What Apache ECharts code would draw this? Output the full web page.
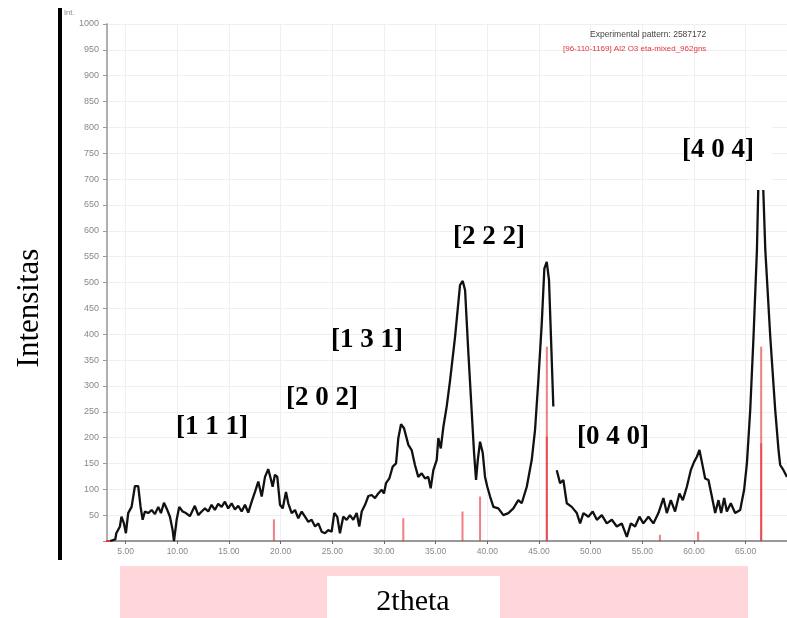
<!DOCTYPE html>
<html>
<head>
<meta charset="utf-8">
<script src="https://cdn.jsdelivr.net/npm/echarts@6/dist/echarts.min.js"></script>
<style>html,body{margin:0;padding:0;background:#fff;}#c{width:787px;height:618px;}</style>
</head>
<body>
<div id="c"></div>
<script>
// ---- data ----
const twoTheta = [3.5,4.0,4.1,4.45,4.6,4.84,5.03,5.25,5.58,5.9,6.22,6.45,6.65,6.87,7.19,7.52,7.84,8.16,8.42,8.71,8.97,9.29,9.55,9.68,9.94,10.19,10.52,10.84,11.22,11.7,12.03,12.36,12.68,13.0,13.32,13.64,13.96,14.29,14.61,14.93,15.26,15.58,15.9,16.23,16.55,16.87,17.2,17.52,17.84,18.17,18.49,18.8,19.04,19.23,19.45,19.68,19.94,20.2,20.52,20.74,21.07,21.39,21.71,22.04,22.36,22.68,23.0,23.33,23.65,23.97,24.29,24.61,24.94,25.19,25.48,25.74,26.06,26.39,26.71,27.03,27.36,27.61,27.85,28.17,28.49,28.81,29.13,29.45,29.78,30.0,30.2,30.52,30.85,31.17,31.39,31.65,31.94,32.36,32.68,33.0,33.32,33.65,33.97,34.29,34.52,34.78,35.11,35.26,35.5,35.75,36.07,36.4,36.88,37.36,37.62,37.85,38.17,38.5,38.72,38.91,39.08,39.3,39.56,39.78,40.0,40.27,40.59,41.07,41.55,42.04,42.52,43.0,43.33,43.82,44.3,44.62,44.94,45.27,45.52,45.75,45.97,46.17,46.39,46.55,46.72,47.04,47.36,47.69,48.17,48.66,48.98,49.3,49.78,50.2,50.6,51.08,51.56,52.05,52.53,53.01,53.5,53.89,54.3,54.72,55.1,55.59,56.07,56.56,57.04,57.37,57.76,58.17,58.59,58.92,59.31,59.69,60.01,60.28,60.53,60.76,61.08,61.4,61.73,62.05,62.37,62.63,62.92,63.18,63.56,63.98,64.47,64.85,65.12,65.44,65.76,66.09,66.24,66.45,66.67,66.9,67.38,67.86,68.18,68.34,68.66,69.0];
const intensity = [0,3,15,28,47,34,15,54,66,106,106,66,41,57,54,60,52,66,54,74,63,47,21,0,41,66,57,54,48,68,50,57,63,57,70,60,72,66,76,63,73,61,68,57,70,55,76,95,115,86,124,139,121,105,128,124,70,63,95,73,54,60,44,57,47,37,41,28,34,18,15,21,18,54,47,15,47,41,50,41,54,28,57,70,87,89,83,92,99,92,112,121,144,150,199,226,218,186,176,147,124,131,121,124,102,137,157,199,179,221,260,311,395,495,503,485,363,247,170,118,157,192,170,124,105,86,66,63,50,54,63,79,73,105,157,215,311,421,527,540,505,389,260,null,137,112,118,73,66,54,34,54,47,57,41,50,34,41,28,34,8,34,28,47,34,47,34,54,83,54,79,57,92,79,105,137,153,163,176,153,121,118,86,54,79,54,83,57,73,54,60,99,150,253,395,563,700,730,700,563,395,253,176,147,137,124];

// reference pattern sticks
const refTheta = [19.35,31.87,37.6,39.3,45.76,45.76,56.7,60.4,66.5,66.5];
const refIntensity = [42,44,57,86,376,202,12,18,376,189];

const xTicks = [5,10,15,20,25,30,35,40,45,50,55,60,65];
const peakLabels = ['[1 1 1]','[2 0 2]','[1 3 1]','[2 2 2]','[0 4 0]','[4 0 4]'];
const legendTexts = ['Experimental pattern: 2587172','[96-110-1169] Al2 O3 eta-mixed_962gns'];
const yTitle = 'Intensitas';
const xTitle = '2theta';
const yUnit = 'Int.';

const curve = twoTheta.map((x, i) => [x, intensity[i]]);
const sticks = refTheta.map((x, i) => [x, refIntensity[i]]);

const labelPos = [[212,427],[322,398],[367,340],[489,237],[613,437],[718,150]];

const chart = echarts.init(document.getElementById('c'), null, {renderer: 'canvas'});
const serif = '"Liberation Serif", "Times New Roman", serif';

const graphic = [
  {type:'rect', shape:{x:58,y:8,width:4,height:552}, style:{fill:'#000'}, z:10},
  {type:'text', x:64, y:9, style:{text:yUnit, fill:'#888', fontSize:7.5, fontFamily:'Liberation Sans'}, z:10},
  {type:'text', x:30, y:308, rotation:Math.PI/2, style:{text:yTitle, fill:'#000', fontSize:31, fontFamily:serif, align:'center', verticalAlign:'middle'}, z:10},
  {type:'rect', shape:{x:120,y:566,width:628,height:52}, style:{fill:'#ffd6da'}, z:10},
  {type:'rect', shape:{x:327,y:576,width:173,height:42}, style:{fill:'#fff'}, z:11},
  {type:'text', x:413, y:602, style:{text:xTitle, fill:'#000', fontSize:30, fontFamily:serif, align:'center', verticalAlign:'middle'}, z:12},
  {type:'rect', shape:{x:750,y:120,width:22,height:70}, style:{fill:'#fff'}, z:20},
  {type:'text', x:590, y:35, style:{text:legendTexts[0], fill:'#444', fontSize:8.5, fontFamily:'Liberation Sans', verticalAlign:'middle'}, z:10},
  {type:'text', x:563, y:49, style:{text:legendTexts[1], fill:'#e8323c', fontSize:8, fontFamily:'Liberation Sans', verticalAlign:'middle'}, z:10}
];
peakLabels.forEach((t, i) => {
  graphic.push({type:'text', x:labelPos[i][0], y:labelPos[i][1], style:{text:t, fill:'#000', fontSize:27, fontWeight:'bold', fontFamily:serif, align:'center', verticalAlign:'middle'}, z:21});
});

chart.setOption({
  animation: false,
  backgroundColor: '#fff',
  grid: {left:107, right:0, top:24, bottom:77},
  xAxis: [{
    type:'value', min:3.2, max:69, position:'bottom',
    axisLine:{show:true, onZero:false, lineStyle:{color:'#333', width:1.5}},
    axisTick:{show:true, customValues:xTicks, length:3, lineStyle:{color:'#666'}},
    axisLabel:{customValues:xTicks, formatter:v=>v.toFixed(2), color:'#888', fontSize:8.5, margin:6, fontFamily:'Liberation Sans'},
    splitLine:{show:true, lineStyle:{color:'#efefef', width:1}}
  },{
    type:'value', min:3.2, max:69, position:'top',
    axisLine:{show:true, lineStyle:{color:'#999', width:2}},
    axisTick:{show:false}, axisLabel:{show:false}, splitLine:{show:false}
  }],
  yAxis: {
    type:'value', min:0, max:1000, interval:50,
    axisLine:{show:true, lineStyle:{color:'#b0b0b0', width:2}},
    axisTick:{show:true, length:4, lineStyle:{color:'#999'}},
    axisLabel:{formatter:v=>v===0?'':String(v), color:'#888', fontSize:9, margin:8, fontFamily:'Liberation Sans'},
    splitLine:{show:true, lineStyle:{color:'#efefef', width:1}}
  },
  series: [
    {type:'line', data:curve, showSymbol:false, connectNulls:false, lineStyle:{color:'#111', width:2.3}, z:3},
    {type:'custom', data:sticks, z:4, renderItem:(params, api) => {
      const top = api.coord([api.value(0), api.value(1)]);
      const bot = api.coord([api.value(0), 0]);
      return {type:'line', shape:{x1:top[0],y1:top[1],x2:bot[0],y2:bot[1]}, style:{stroke:'rgba(232,40,50,0.6)', lineWidth:2}};
    }},
    {type:'line', data:[[2.05,0],[3.5,0]], clip:false, showSymbol:false, lineStyle:{color:'#e8323c', width:2}, z:4}
  ],
  graphic: graphic
});
</script>
</body>
</html>
